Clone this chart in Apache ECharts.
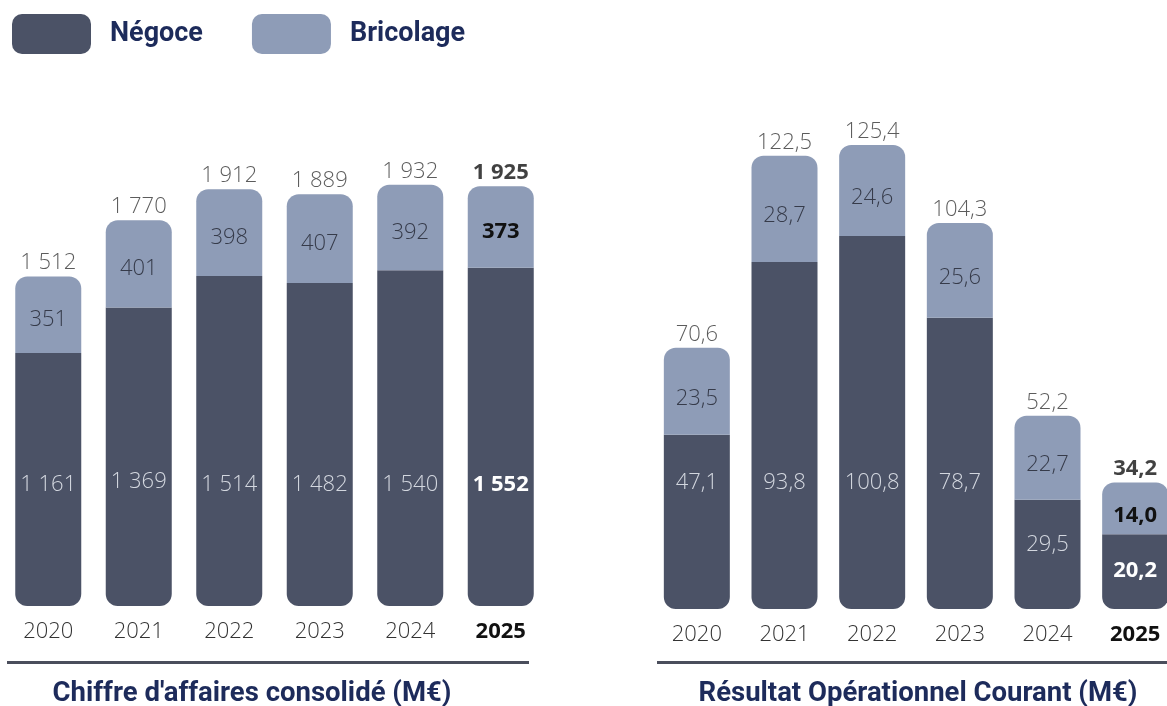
<!DOCTYPE html>
<html>
<head>
<meta charset="utf-8">
<script src="https://cdn.jsdelivr.net/npm/echarts@6/dist/echarts.min.js"></script>
<style>
  html, body { margin: 0; padding: 0; background: #fff; }
  #main { width: 1167px; height: 706px; }
</style>
</head>
<body>
<div id="main"></div>
<script>
// categories
var years = ['2020', '2021', '2022', '2023', '2024', '2025'];

// Chiffre d'affaires consolidé (M€)
var caNegoce = [1161, 1369, 1514, 1482, 1540, 1552];
var caBricolage = [351, 401, 398, 407, 392, 373];
var caTotal = [1512, 1770, 1912, 1889, 1932, 1925];

// Résultat Opérationnel Courant (M€)
var rocNegoce = [47.1, 93.8, 100.8, 78.7, 29.5, 20.2];
var rocBricolage = [23.5, 28.7, 24.6, 25.6, 22.7, 14.0];
var rocTotal = [70.6, 122.5, 125.4, 104.3, 52.2, 34.2];

var colNegoce = '#4b5266';
var colBricolage = '#8e9cb7';
var navy = '#1d2b5b';
var numFont = '"Open Sans", sans-serif';
var numSize = 22;

// format FR : espace des milliers, virgule décimale
function fmtInt(v) {
    return String(v).replace(/\B(?=(\d{3})+(?!\d))/g, ' ');
}
function fmtDec(v) {
    return v.toFixed(1).replace('.', ',');
}

function extend(a, b) {
    return Object.assign({}, a, b);
}

var last = years.length - 1;

// 2025 en gras
function negoceData(arr, fmt, dist) {
    return arr.map(function(v, i) {
        var bold = i === last;
        return {
            value: v,
            label: {
                position: 'insideBottom',
                distance: dist[i],
                formatter: fmt(v),
                color: bold ? '#ffffff' : '#d3d7df',
                fontWeight: bold ? 'bold' : 300
            }
        };
    });
}
function bricolageData(arr, fmt) {
    return arr.map(function(v, i) {
        var bold = i === last;
        return {
            value: v,
            label: {
                formatter: fmt(v),
                color: bold ? '#111111' : '#363b4a',
                fontWeight: bold ? 'bold' : 300
            }
        };
    });
}
function totalData(arr, fmt) {
    return arr.map(function(v, i) {
        var bold = i === last;
        return {
            value: v,
            label: {
                formatter: fmt(v),
                color: bold ? '#111111' : '#333333',
                fontWeight: bold ? 'bold' : 300
            }
        };
    });
}

var chart = echarts.init(document.getElementById('main'));

var barCommon = {
    type: 'bar',
    barWidth: 66,
    label: { show: true, fontSize: numSize, fontFamily: numFont },
    emphasis: { disabled: true }
};
var totalCommon = {
    type: 'scatter',
    symbolSize: 1,
    itemStyle: { color: 'rgba(0,0,0,0)' },
    label: { show: true, position: 'top', distance: 2, fontSize: numSize, fontFamily: numFont },
    emphasis: { disabled: true }
};
var titleStyle = { fontFamily: 'Roboto, sans-serif', fontWeight: 'bold', fontSize: 27.5, color: navy };

var option = {
    animation: false,
    backgroundColor: '#ffffff',
    legend: {
        left: 7, top: 9,
        itemWidth: 79, itemHeight: 40, itemGap: 49,
        icon: 'roundRect',
        selectedMode: false,
        data: ['Négoce', 'Bricolage'],
        textStyle: {
            fontFamily: 'Roboto, sans-serif', fontWeight: 'bold',
            fontSize: 27, color: navy, padding: [2, 0, 0, 14]
        }
    },
    title: [
        { text: "Chiffre d'affaires consolidé (M€)", left: 247, top: 675, textAlign: 'center', textStyle: titleStyle },
        { text: 'Résultat Opérationnel Courant (M€)', left: 913, top: 675, textAlign: 'center', textStyle: titleStyle }
    ],
    graphic: [
        { type: 'rect', shape: { x: 7, y: 661, width: 522, height: 3 }, style: { fill: '#4a4e5c' } },
        { type: 'rect', shape: { x: 657, y: 661, width: 520, height: 3 }, style: { fill: '#4a4e5c' } }
    ],
    grid: [
        { left: 3, top: 170, width: 543, height: 436, outerBoundsMode: 'none' },
        { left: 653, top: 128, width: 526, height: 481, outerBoundsMode: 'none' }
    ],
    xAxis: [0, 1].map(function(i) {
        return {
            type: 'category', gridIndex: i, data: years,
            axisLine: { show: false }, axisTick: { show: false },
            axisLabel: {
                interval: 0, margin: 15, fontSize: numSize, fontFamily: numFont, color: '#333333', fontWeight: 300,
                formatter: function(v) { return v === years[last] ? '{b|' + v + '}' : v; },
                rich: { b: { fontSize: numSize, fontFamily: numFont, fontWeight: 'bold', color: '#111111' } }
            }
        };
    }),
    yAxis: [
        { type: 'value', gridIndex: 0, min: 0, max: 2000, show: false },
        { type: 'value', gridIndex: 1, min: 0, max: 130, show: false }
    ],
    series: [
        extend(barCommon, {
            name: 'Négoce', xAxisIndex: 0, yAxisIndex: 0, stack: 'ca',
            itemStyle: { color: colNegoce, borderRadius: [0, 0, 12, 12] },
            data: negoceData(caNegoce, fmtInt, [110, 113, 110, 110, 110, 110])
        }),
        extend(barCommon, {
            name: 'Bricolage', xAxisIndex: 0, yAxisIndex: 0, stack: 'ca',
            itemStyle: { color: colBricolage, borderRadius: [12, 12, 0, 0] },
            label: { show: true, position: 'inside', offset: [0, 5], fontSize: numSize, fontFamily: numFont },
            data: bricolageData(caBricolage, fmtInt)
        }),
        extend(totalCommon, { xAxisIndex: 0, yAxisIndex: 0, data: totalData(caTotal, fmtInt) }),
        extend(barCommon, {
            name: 'Négoce', xAxisIndex: 1, yAxisIndex: 1, stack: 'roc',
            itemStyle: { color: colNegoce, borderRadius: [0, 0, 12, 12] },
            data: negoceData(rocNegoce, fmtDec, [115, 115, 115, 115, 53, 27])
        }),
        extend(barCommon, {
            name: 'Bricolage', xAxisIndex: 1, yAxisIndex: 1, stack: 'roc',
            itemStyle: { color: colBricolage, borderRadius: [12, 12, 0, 0] },
            label: { show: true, position: 'inside', offset: [0, 7], fontSize: numSize, fontFamily: numFont },
            data: bricolageData(rocBricolage, fmtDec)
        }),
        extend(totalCommon, { xAxisIndex: 1, yAxisIndex: 1, data: totalData(rocTotal, fmtDec) })
    ]
};

chart.setOption(option);

window.onresize = function() {
    chart.resize();
};
</script>
</body>
</html>
